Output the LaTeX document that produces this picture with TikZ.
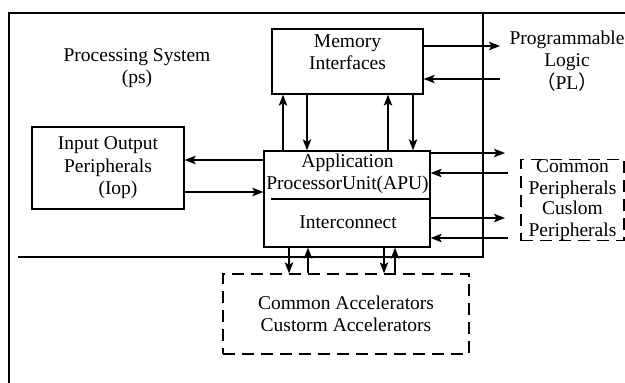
\documentclass[tikz,border=0pt]{standalone}
\usepackage{fontspec}
\setmainfont{Liberation Serif}
\newfontfamily\cjk{Noto Sans CJK SC}
\usetikzlibrary{arrows.meta}
\begin{document}
\begin{tikzpicture}[x=1pt,y=-1pt,
  every node/.style={font=\fontsize{19.5}{22.5}\selectfont, inner sep=0pt, align=center},
  ln/.style={line width=1.3pt},
  box/.style={draw, ln, rectangle},
  dbox/.style={draw, ln, rectangle, dash pattern=on 12pt off 7pt},
  arr/.style={ln, -{Stealth[length=11pt,width=8.5pt,inset=2.5pt]}}]
\useasboundingbox (0,0) rectangle (625,383);
% frame
\coordinate (fTL) at (9,13);
\coordinate (fTR) at (625,13);
\coordinate (fBL) at (9,384);
\draw[ln] (fBL) -- (fTL) -- (fTR);
\coordinate (sL) at (18,257);
\coordinate (sC) at (483,257);
\coordinate (sT) at (483,13);
\draw[ln] (sL) -- (sC) -- (sT);
% texts
\node (ps) at (137,68) {Processing System\\(ps)};
\node (pl) at (567,61) {Programmable\\Logic\\{\cjk （}PL{\cjk ）}};
% boxes
\node[box, minimum width=151pt, minimum height=65pt] (mem) at (347.5,61.5) {};
\node (memtxt) at (347.5,52) {Memory\\Interfaces};
\node[box, minimum width=152pt, minimum height=82pt] (iop) at (108,168) {Input Output\\Peripherals\\\hspace*{20pt}(Iop)};
\node[box, minimum width=166pt, minimum height=96pt] (apu) at (347,199) {};
\node (aputxt) at (347.5,174) {Application\\ProcessorUnit(APU)};
\node (ictxt) at (348,222) {Interconnect};
\coordinate (dv) at (271,199);
\draw[ln] (dv) -- (apu.east |- dv);
\node[dbox, minimum width=103pt, minimum height=80pt] (per) at (572.5,200) {Common\\Peripherals\\[-3pt]Cuslom\\Peripherals};
\node[dbox, minimum width=246pt, minimum height=80pt] (acc) at (346,314) {Common Accelerators\\Custorm Accelerators};
% memory <-> PL
\coordinate (plA) at (500,46);
\coordinate (plB) at (500,79);
\draw[arr] (mem.east |- plA) -- (plA);
\draw[arr] (plB) -- (mem.east |- plB);
% IOP <-> APU
\coordinate (ioA) at (0,160);
\coordinate (ioB) at (0,192);
\draw[arr] (apu.west |- ioA) -- (iop.east |- ioA);
\draw[arr] (iop.east |- ioB) -- (apu.west |- ioB);
% APU <-> memory
\coordinate (ua) at (283,0);
\coordinate (ub) at (307,0);
\coordinate (uc) at (388,0);
\coordinate (ud) at (413,0);
\draw[arr] (ua |- apu.north) -- (ua |- mem.south);
\draw[arr] (ub |- mem.south) -- (ub |- apu.north);
\draw[arr] (uc |- apu.north) -- (uc |- mem.south);
\draw[arr] (ud |- mem.south) -- (ud |- apu.north);
% APU <-> right side
\coordinate (rA) at (505,153);
\coordinate (rB) at (508,173);
\coordinate (rC) at (505,218);
\coordinate (rD) at (508,238);
\draw[arr] (apu.east |- rA) -- (rA);
\draw[arr] (rB) -- (apu.east |- rB);
\draw[arr] (apu.east |- rC) -- (rC);
\draw[arr] (rD) -- (apu.east |- rD);
% APU <-> accelerators
\coordinate (da) at (289,0);
\coordinate (db) at (308,0);
\coordinate (dc) at (384,0);
\coordinate (dd) at (395,0);
\draw[arr] (da |- apu.south) -- (da |- acc.north);
\draw[arr] (db |- acc.north) -- (db |- apu.south);
\draw[arr] (dc |- apu.south) -- (dc |- acc.north);
\draw[arr] (dd |- acc.north) -- (dd |- apu.south);
\end{tikzpicture}
\end{document}
